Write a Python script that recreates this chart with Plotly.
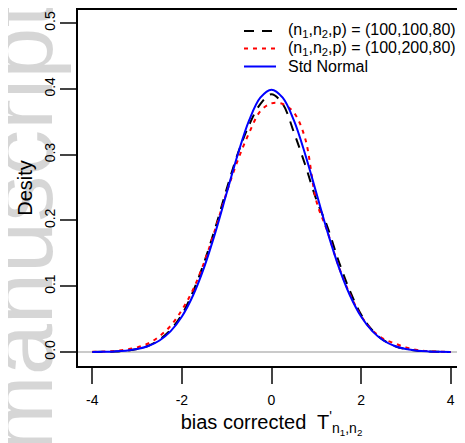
import plotly.graph_objects as go

# ------------------------------ values ------------------------------
xGrid = [-4.0, -3.75, -3.5, -3.25, -3.0, -2.75, -2.5, -2.25, -2.0, -1.75, -1.5, -1.25, -1.0,
         -0.75, -0.5, -0.25, 0.0, 0.25, 0.5, 0.75, 1.0, 1.25, 1.5, 1.75, 2.0, 2.25, 2.5, 2.75,
         3.0, 3.25, 3.5, 3.75, 4.0]

dens100_100 = [0.0001, 0.0003, 0.0008, 0.002, 0.0045, 0.0095, 0.019, 0.034, 0.057, 0.092, 0.137,
               0.19, 0.248, 0.302, 0.345, 0.377, 0.392, 0.377, 0.334, 0.285, 0.232, 0.19, 0.138,
               0.093, 0.057, 0.033, 0.018, 0.009, 0.0043, 0.002, 0.0008, 0.0003, 0.0001]

dens100_200 = [0.0002, 0.0006, 0.0015, 0.0035, 0.007, 0.013, 0.024, 0.040, 0.064, 0.095, 0.137,
               0.188, 0.243, 0.292, 0.333, 0.366, 0.378, 0.377, 0.364, 0.325, 0.23, 0.183, 0.130,
               0.088, 0.055, 0.033, 0.020, 0.013, 0.007, 0.003, 0.0012, 0.0004, 0.0001]

stdNormal = [0.0001, 0.0004, 0.0009, 0.002, 0.0044, 0.0091, 0.0175, 0.0317, 0.054, 0.0863, 0.1295,
             0.1826, 0.242, 0.3011, 0.3521, 0.3867, 0.3989, 0.3867, 0.3521, 0.3011, 0.242, 0.1826,
             0.1295, 0.0863, 0.054, 0.0317, 0.0175, 0.0091, 0.0044, 0.002, 0.0009, 0.0004, 0.0001]

seriesNames = ["(n<sub>1</sub>,n<sub>2</sub>,p) = (100,100,80)",
               "(n<sub>1</sub>,n<sub>2</sub>,p) = (100,200,80)",
               "Std Normal"]
seriesColors = ["black", "red", "blue"]
seriesDash = ["10px,8px", "4px,5px", "solid"]

xTicks = [-4, -2, 0, 2, 4]
xTickText = ["-4", "-2", "0", "2", "4"]
yTicks = [0.0, 0.1, 0.2, 0.3, 0.4, 0.5]

font = "Liberation Sans, Arial, sans-serif"

# the page body has an 8px margin, so the figure is placed 8px in and shrunk to fit
off = 8
figW = 465 - off
figH = 443 - off
mL, mT, mB = 78 - off, 10 - off, 443 - 366
plotW = figW - mL
plotH = figH - mT - mB


def px_x(x):
    # window pixel -> paper x
    return (x - off - mL) / plotW


def px_y(y):
    # window pixel -> paper y
    return 1 - (y - off - mT) / plotH


# ------------------------------ plotting ------------------------------
fig = go.Figure()

allSeries = [dens100_100, dens100_200, stdNormal]
for i in range(3):
    fig.add_trace(go.Scatter(x=xGrid, y=allSeries[i], name=seriesNames[i], mode="lines",
                             showlegend=False,
                             line=dict(color=seriesColors[i], width=2, dash=seriesDash[i], shape="spline")))

fig.add_hline(y=0, line=dict(color="#b8b8b8", width=1.5), layer="below")

# legend drawn by hand (R style, no box, tight rows)
legendRows = [31, 48.5, 66.5]
for i in range(3):
    yp = px_y(legendRows[i])
    fig.add_shape(type="line", xref="paper", yref="paper",
                  x0=px_x(244), x1=px_x(276), y0=yp, y1=yp,
                  line=dict(color=seriesColors[i], width=2, dash=seriesDash[i]))
    fig.add_annotation(text=seriesNames[i], showarrow=False, xref="paper", yref="paper",
                       x=px_x(286), y=yp, xanchor="left", yanchor="middle",
                       font=dict(size=16))

# faint watermark on the left edge
fig.add_annotation(text="manuscript", textangle=-90, showarrow=False,
                   xref="paper", yref="paper", x=px_x(20), y=px_y(227),
                   xanchor="center", yanchor="middle",
                   font=dict(family=font, size=92, color="rgba(0,0,0,0.16)"))

fig.update_layout(
    width=figW, height=figH,
    margin=dict(l=mL, r=0, t=mT, b=mB),
    paper_bgcolor="white", plot_bgcolor="white",
    font=dict(family=font, size=13, color="black"),
    showlegend=False,
)

fig.update_xaxes(range=[-4.32, 4.32], tickvals=xTicks, ticktext=xTickText, ticks="outside",
                 ticklen=16, tickwidth=1.5, automargin=False, ticklabelstandoff=4,
                 showline=True, linewidth=1.5, linecolor="black", mirror=True, showgrid=False,
                 zeroline=False, tickfont=dict(size=14),
                 title=dict(text="bias corrected  T<sup>'</sup><sub>n<sub>1</sub>,n<sub>2</sub></sub>",
                            font=dict(size=20), standoff=0))
fig.update_yaxes(range=[-0.0213, 0.52], tickvals=yTicks, tickformat=".1f", ticks="outside",
                 ticklen=16, tickwidth=1.5, tickangle=-90, automargin=False, ticklabelstandoff=0,
                 showline=True, linewidth=1.5, linecolor="black", showgrid=False,
                 zeroline=False, tickfont=dict(size=14),
                 title=dict(text="Desity", font=dict(size=20), standoff=4))

fig.write_html("out.html")
